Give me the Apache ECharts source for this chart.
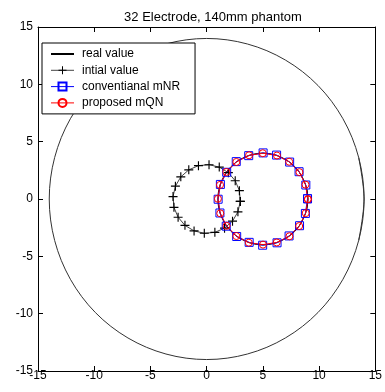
<!DOCTYPE html>
<html>
<head>
<meta charset="utf-8">
<script src="https://cdn.jsdelivr.net/npm/echarts@6/dist/echarts.min.js"></script>
<style>
html,body{margin:0;padding:0;background:#fff;}
#chart{width:385px;height:392px;}
</style>
</head>
<body>
<div id="chart"></div>
<script>
// ---- data ----
var titleText = '32 Electrode, 140mm phantom';
var axisTicks = [-15, -10, -5, 0, 5, 10, 15];
var seriesNames = ['real value', 'intial value', 'conventianal mNR', 'proposed mQN'];

// phantom boundary (radius 14), listed around the circle, wrapping one point at each end
var phantomX = [13.52, 14, 13.52, 12.12, 9.90, 7, 3.62, 0, -3.62, -7, -9.90, -12.12, -13.52, -14, -13.52, -12.12, -9.90, -7, -3.62, 0, 3.62, 7, 9.90, 12.12, 13.52, 14, 13.52];
var phantomY = [-3.62, 0, 3.62, 7, 9.90, 12.12, 13.52, 14, 13.52, 12.12, 9.90, 7, 3.62, 0, -3.62, -7, -9.90, -12.12, -13.52, -14, -13.52, -12.12, -9.90, -7, -3.62, 0, 3.62];

// real inclusion (centre 5,0 radius 4)
var realX = [8.86, 9, 8.86, 8.46, 7.83, 7, 6.04, 5, 3.96, 3, 2.17, 1.54, 1.14, 1, 1.14, 1.54, 2.17, 3, 3.96, 5, 6.04, 7, 7.83, 8.46, 8.86, 9, 8.86];
var realY = [-1.04, 0, 1.04, 2, 2.83, 3.46, 3.86, 4, 3.86, 3.46, 2.83, 2, 1.04, 0, -1.04, -2, -2.83, -3.46, -3.86, -4, -3.86, -3.46, -2.83, -2, -1.04, 0, 1.04];

// initial guess
var initX = [2.99, 2.91, 2.54, 1.93, 1.12, 0.21, -0.73, -1.59, -2.30, -2.78, -2.99, -2.91, -2.54, -1.93, -1.12, -0.21, 0.73, 1.59, 2.30, 2.78, 2.99];
var initY = [-0.21, 0.73, 1.59, 2.30, 2.78, 2.99, 2.91, 2.54, 1.93, 1.12, 0.21, -0.73, -1.59, -2.30, -2.78, -2.99, -2.91, -2.54, -1.93, -1.12, -0.21];

// conventional mNR result
var mnrX = [8.97, 8.82, 8.22, 7.38, 6.22, 5.02, 3.74, 2.63, 1.78, 1.22, 1.02, 1.18, 1.74, 2.67, 3.78, 4.98, 6.26, 7.33, 8.26, 8.78, 8.97];
var mnrY = [0.02, 1.22, 2.38, 3.22, 3.83, 4.02, 3.78, 3.26, 2.33, 1.27, -0.02, -1.22, -2.37, -3.27, -3.78, -4.03, -3.82, -3.22, -2.33, -1.26, 0.02];

// proposed mQN result
var mqnX = [9.00, 8.79, 8.25, 7.34, 6.25, 4.99, 3.77, 2.64, 1.75, 1.19, 1.00, 1.21, 1.77, 2.64, 3.75, 5.01, 6.23, 7.36, 8.23, 8.81, 9.00];
var mqnY = [-0.02, 1.25, 2.34, 3.25, 3.79, 3.99, 3.81, 3.23, 2.36, 1.23, 0.02, -1.25, -2.34, -3.23, -3.81, -3.98, -3.79, -3.25, -2.36, -1.23, -0.02];

function pairs(xs, ys) { return xs.map(function (x, i) { return [x, ys[i]]; }); }

var FONT = '"Liberation Sans", Arial, sans-serif';
var plusPath = 'path://M0,3.5H8V4.5H0Z M3.5,0H4.5V8H3.5Z';

var axisCommon = {
  type: 'value',
  min: axisTicks[0],
  max: axisTicks[axisTicks.length - 1],
  interval: 5,
  splitLine: { show: false },
  axisLine: { show: true, onZero: false, lineStyle: { color: '#000', width: 1 } },
  axisTick: { show: true, inside: true, length: 5, lineStyle: { color: '#000', width: 1 } }
};

function ax(extra) { return Object.assign({}, JSON.parse(JSON.stringify(axisCommon)), extra); }

var chart = echarts.init(document.getElementById('chart'), null, { renderer: 'canvas' });
chart.setOption({
  animation: false,
  backgroundColor: '#fff',
  title: {
    text: titleText,
    left: 208,
    top: 6,
    textAlign: 'center',
    textStyle: { fontFamily: FONT, fontSize: 13, fontWeight: 'normal', color: '#000' }
  },
  grid: { left: 38, right: 6, top: 27, bottom: 21, containLabel: false },
  xAxis: [
    ax({ position: 'bottom', axisLabel: { show: true, margin: 0, lineHeight: 9, fontSize: 12, color: '#000', fontFamily: FONT } }),
    ax({ position: 'top', axisLabel: { show: false } })
  ],
  yAxis: [
    ax({ position: 'left', axisLabel: { show: true, margin: 5, fontSize: 12, color: '#000', fontFamily: FONT } }),
    ax({ position: 'right', axisLabel: { show: false } })
  ],
  legend: {
    orient: 'vertical',
    left: 42,
    top: 43,
    backgroundColor: '#fff',
    borderColor: '#000',
    borderWidth: 1,
    borderRadius: 0,
    padding: [5, 15, 5, 8],
    itemWidth: 23,
    itemHeight: 10,
    itemGap: 4.3,
    lineStyle: { width: 1 },
    textStyle: { fontFamily: FONT, fontSize: 12, color: '#000', padding: [0, 0, 0, 3] },
    data: [
      { name: seriesNames[0], lineStyle: { width: 2 } },
      { name: seriesNames[1] },
      { name: seriesNames[2] },
      { name: seriesNames[3] }
    ]
  },
  series: [
    {
      name: 'phantom',
      type: 'line',
      data: pairs(phantomX, phantomY),
      smooth: 0.34,
      showSymbol: false,
      symbol: 'none',
      lineStyle: { color: '#333', width: 1 },
      itemStyle: { color: '#333' },
      silent: true
    },
    {
      name: seriesNames[0],
      type: 'line',
      data: pairs(realX, realY),
      smooth: 0.34,
      showSymbol: false,
      symbol: 'circle',
      symbolSize: 1,
      lineStyle: { color: '#000', width: 1 },
      itemStyle: { color: 'rgba(0,0,0,0)', borderColor: 'rgba(0,0,0,0)', borderWidth: 0 }
    },
    {
      name: seriesNames[1],
      type: 'line',
      data: pairs(initX, initY),
      symbol: plusPath,
      symbolSize: 9,
      lineStyle: { color: '#444', width: 1 },
      itemStyle: { color: '#000' }
    },
    {
      name: seriesNames[2],
      type: 'line',
      data: pairs(mnrX, mnrY),
      symbol: 'rect',
      symbolSize: 8,
      lineStyle: { color: '#0000ff', width: 1 },
      itemStyle: { color: 'rgba(0,0,0,0)', borderColor: '#0000ff', borderWidth: 1 }
    },
    {
      name: seriesNames[3],
      type: 'line',
      data: pairs(mqnX, mqnY),
      symbol: 'circle',
      symbolSize: 7,
      lineStyle: { color: '#ff0000', width: 1 },
      itemStyle: { color: 'rgba(0,0,0,0)', borderColor: '#ff0000', borderWidth: 1 }
    }
  ]
});
</script>
</body>
</html>
